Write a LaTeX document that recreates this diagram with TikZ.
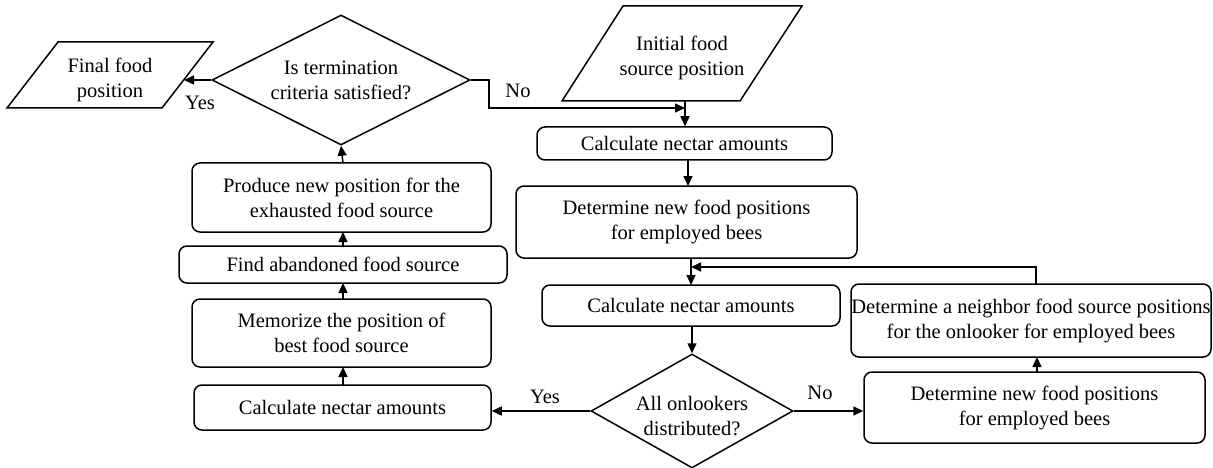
\documentclass[tikz,border=0pt]{standalone}
\usepackage{fontspec}
\setmainfont{Liberation Serif}
\usetikzlibrary{arrows.meta,shapes.geometric,calc}
\begin{document}
\begin{tikzpicture}[x=1pt,y=-1pt,
  every node/.style={font=\fontsize{20.5}{25}\selectfont},
  proc/.style={draw,line width=1.5pt,rounded corners=8pt,inner sep=0pt,align=center},
  dec/.style={draw,line width=1.5pt,diamond,inner sep=0pt,align=center},
  io/.style={line width=1.5pt},
  arr/.style={line width=1.5pt,-{Triangle[length=10pt,width=9pt]}},
  lbl/.style={inner sep=0pt}]
\useasboundingbox (0,0) rectangle (1213,468);
% input/output shapes
\draw[io] (58,42) -- (213,42) -- (162,108) -- (7,108) -- cycle;
\node[lbl,align=center] (final) at (110,80) {Final food\\position};
\coordinate (finalr) at (184,80);
\draw[io] (623,6) -- (802,6) -- (740,101) -- (562,101) -- cycle;
\node[lbl,align=center] (init) at (682,58) {Initial food\\source position};
\coordinate (initb) at (685,101);
% decisions
\node[dec,minimum width=258pt,minimum height=130pt,aspect=2] (term) at (341,80) {Is termination\\criteria satisfied?};
\node[dec,minimum width=202pt,minimum height=114pt,aspect=1.8] (onl) at (692,411) {};
\node[lbl,align=center] (onlt) at (692,416) {All onlookers\\distributed?};
% processes right
\node[proc,minimum width=295pt,minimum height=33pt] (calc1) at (684.5,143.5) {Calculate nectar amounts};
\node[proc,minimum width=341pt,minimum height=72pt] (det1) at (686.5,222) {Determine new food positions\\for employed bees};
\node[proc,minimum width=298pt,minimum height=41pt] (calc2) at (691,305.5) {Calculate nectar amounts};
\node[proc,minimum width=360pt,minimum height=73pt] (neigh) at (1031,320.5) {Determine a neighbor food source positions\\for the onlooker for employed bees};
\node[proc,minimum width=341pt,minimum height=71pt] (det2) at (1034.5,407.5) {Determine new food positions\\for employed bees};
% processes left
\node[proc,minimum width=297pt,minimum height=45pt] (calcL) at (342.5,407.5) {Calculate nectar amounts};
\node[proc,minimum width=299pt,minimum height=68pt] (memo) at (341.5,333) {Memorize the position of\\best food source};
\node[proc,minimum width=328pt,minimum height=37pt] (find) at (343,264.5) {Find abandoned food source};
\node[proc,minimum width=299pt,minimum height=69pt] (prod) at (341.5,197.5) {Produce new position for the\\exhausted food source};
% connectors
\coordinate (noend) at (685,108);
\coordinate (fb) at (691,267);
\draw[arr] (initb) -- (initb |- calc1.north);
\draw[arr] (term.east) -- (489,80) |- (noend);
\node[lbl] (nolbl1) at (518,91) {No};
\draw[arr] (688,160) -- (688,186);
\draw[arr] (691,258) -- (691,285);
\draw[arr] (692,326) -- (onl.north);
\draw[arr] (onl.west) -- (calcL.east |- onl.west);
\node[lbl] (yes2) at (545,397) {Yes};
\draw[arr] (onl.east) -- (det2.west |- onl.east);
\node[lbl] (no2) at (820,393) {No};
\draw[arr] (1037,372) -- (1037,357);
\draw[arr] (1036,284) -- (1036,267) -- (fb);
\draw[arr] (343,385) -- (343,367);
\draw[arr] (343,299) -- (343,283);
\draw[arr] (343,246) -- (343,232);
\draw[arr] (343,163) -- (term.south);
\draw[arr] (term.west) -- (finalr);
\node[lbl] (yes1) at (200,103) {Yes};
\end{tikzpicture}
\end{document}
